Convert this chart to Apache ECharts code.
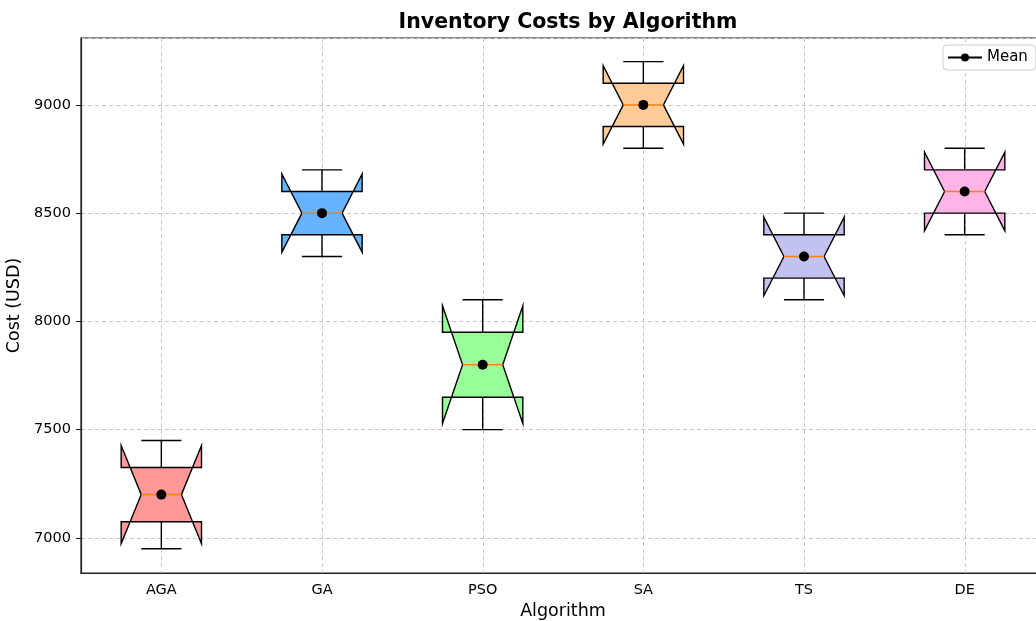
<!DOCTYPE html>
<html>
<head>
<meta charset="utf-8">
<script src="https://cdn.jsdelivr.net/npm/echarts@6/dist/echarts.min.js"></script>
<style>
  html, body { margin: 0; padding: 0; background: #fff; }
  #chart { width: 1036px; height: 621px; }
</style>
</head>
<body>
<div id="chart"></div>
<script>
// Algorithms compared
const categories = ['AGA', 'GA', 'PSO', 'SA', 'TS', 'DE'];

// Inventory cost samples (USD) per algorithm
const costAGA = [6950, 7200, 7450];
const costGA  = [8300, 8500, 8700];
const costPSO = [7500, 7800, 8100];
const costSA  = [8800, 9000, 9200];
const costTS  = [8100, 8300, 8500];
const costDE  = [8400, 8600, 8800];

const samples = [costAGA, costGA, costPSO, costSA, costTS, costDE];

// Box fill colours
const boxColors = ['#ff9999', '#66b3ff', '#99ff99', '#ffcc99', '#c2c2f0', '#ffb3e6'];

// Linear-interpolated percentile
function percentile(sorted, p) {
  const pos = (sorted.length - 1) * p;
  const lo = Math.floor(pos), hi = Math.ceil(pos);
  return sorted[lo] + (sorted[hi] - sorted[lo]) * (pos - lo);
}

// Box statistics: whiskers at 1.5 IQR, notch from the median confidence interval
function boxStats(values) {
  const s = values.slice().sort((a, b) => a - b);
  const q1 = percentile(s, 0.25), med = percentile(s, 0.5), q3 = percentile(s, 0.75);
  const iqr = q3 - q1;
  const lo = s.filter(v => v >= q1 - 1.5 * iqr)[0];
  const hi = s.filter(v => v <= q3 + 1.5 * iqr).slice(-1)[0];
  const half = 1.57 * iqr / Math.sqrt(s.length);
  const mean = s.reduce((a, b) => a + b, 0) / s.length;
  return { lo, q1, med, q3, hi, nlo: med - half, nhi: med + half, mean };
}

const stats = samples.map(boxStats);
const boxData = stats.map((st, i) => [i, st.lo, st.q1, st.med, st.q3, st.hi, st.nlo, st.nhi]);
const meanData = stats.map(st => st.mean);

const gridLineStyle = { stroke: '#c8c8c8', lineWidth: 1, lineDash: [4, 3] };

// Vertical dashed grid line through each category centre
function renderVGrid(params, api) {
  const x = Math.round(api.coord([api.value(0), 0])[0]) + 0.5;
  const cs = params.coordSys;
  return {
    type: 'line',
    shape: { x1: x, y1: cs.y, x2: x, y2: cs.y + cs.height },
    style: gridLineStyle,
    silent: true
  };
}

function renderBox(params, api) {
  const i = api.value(0);
  const y = v => api.coord([i, v])[1];
  const x = api.coord([i, api.value(3)])[0];
  const half = api.size([1, 0])[0] * 0.25;
  const capL = x - half / 2, capR = x + half / 2;
  const yLo = y(api.value(1)), yQ1 = y(api.value(2)), yMed = y(api.value(3));
  const yQ3 = y(api.value(4)), yHi = y(api.value(5));
  const yNlo = y(api.value(6)), yNhi = y(api.value(7));
  const L = x - half, R = x + half;
  const stroke = { stroke: '#000', lineWidth: 1.4 };
  return {
    type: 'group',
    children: [
      { type: 'line', shape: { x1: x, y1: yQ1, x2: x, y2: yLo }, style: stroke },
      { type: 'line', shape: { x1: capL, y1: yLo, x2: capR, y2: yLo }, style: stroke },
      { type: 'line', shape: { x1: x, y1: yQ3, x2: x, y2: yHi }, style: stroke },
      { type: 'line', shape: { x1: capL, y1: yHi, x2: capR, y2: yHi }, style: stroke },
      {
        type: 'polygon',
        shape: { points: [
          [L, yQ1], [R, yQ1], [R, yNlo], [capR, yMed], [R, yNhi], [R, yQ3],
          [L, yQ3], [L, yNhi], [capL, yMed], [L, yNlo]
        ] },
        style: { fill: boxColors[i], stroke: '#000', lineWidth: 1.4, lineJoin: 'miter' }
      },
      { type: 'line', shape: { x1: capL, y1: yMed, x2: capR, y2: yMed }, style: { stroke: '#ff7f0e', lineWidth: 1.5 } }
    ]
  };
}

const font = 'DejaVu Sans';
const chart = echarts.init(document.getElementById('chart'));
chart.setOption({
  backgroundColor: '#fff',
  animation: false,
  title: {
    text: 'Inventory Costs by Algorithm',
    left: 563, top: 7, textAlign: 'center',
    textStyle: { fontFamily: font, fontSize: 20.5, fontWeight: 'bold', color: '#000' }
  },
  legend: {
    left: 943, top: 45,
    padding: [5, 8, 5, 4],
    itemWidth: 34, itemHeight: 10, itemGap: 10,
    borderColor: '#cccccc', borderWidth: 1, borderRadius: 4,
    backgroundColor: '#fff',
    textStyle: { fontFamily: font, fontSize: 15, color: '#000' },
    data: [{
      name: 'Mean',
      itemStyle: { color: '#000' },
      lineStyle: { color: '#000', width: 2, opacity: 1 }
    }]
  },
  grid: {
    left: 81, top: 38, right: -9, bottom: 48,
    outerBoundsMode: 'none', containLabel: false,
    show: true, borderColor: '#222', borderWidth: 1.2, backgroundColor: 'transparent'
  },
  xAxis: {
    type: 'category',
    data: categories,
    name: 'Algorithm',
    nameLocation: 'middle', nameGap: 28,
    nameTextStyle: { fontFamily: font, fontSize: 17.5, color: '#000' },
    axisLine: { lineStyle: { color: '#222', width: 1.2 } },
    axisTick: { alignWithLabel: true, length: 5, lineStyle: { color: '#222' } },
    axisLabel: { margin: 10, fontFamily: font, fontSize: 14.5, color: '#000' },
    splitLine: { show: false }
  },
  yAxis: {
    type: 'value',
    min: 6838, max: 9309,
    splitNumber: 5,
    name: 'Cost (USD)',
    nameLocation: 'middle', nameGap: 50,
    nameTextStyle: { fontFamily: font, fontSize: 17.5, color: '#000' },
    axisLine: { show: true, lineStyle: { color: '#222', width: 1.2 } },
    axisTick: { show: true, length: 5, lineStyle: { color: '#222' } },
    axisLabel: {
      margin: 10, fontFamily: font, fontSize: 14.5, color: '#000',
      showMinLabel: false, showMaxLabel: false,
      formatter: v => String(v)
    },
    splitLine: { show: true, lineStyle: { color: '#c8c8c8', type: [4, 3], width: 1 } }
  },
  series: [
    {
      type: 'custom',
      name: 'VGrid',
      renderItem: renderVGrid,
      encode: { x: 0 },
      data: categories.map((c, i) => [i]),
      silent: true,
      z: 1
    },
    {
      type: 'custom',
      name: 'Boxes',
      renderItem: renderBox,
      encode: { x: 0, y: [1, 2, 3, 4, 5, 6, 7] },
      data: boxData,
      z: 2
    },
    {
      type: 'line',
      name: 'Mean',
      data: meanData,
      symbol: 'circle',
      symbolSize: 10,
      itemStyle: { color: '#000' },
      lineStyle: { opacity: 0 },
      z: 5
    }
  ]
});
</script>
</body>
</html>
